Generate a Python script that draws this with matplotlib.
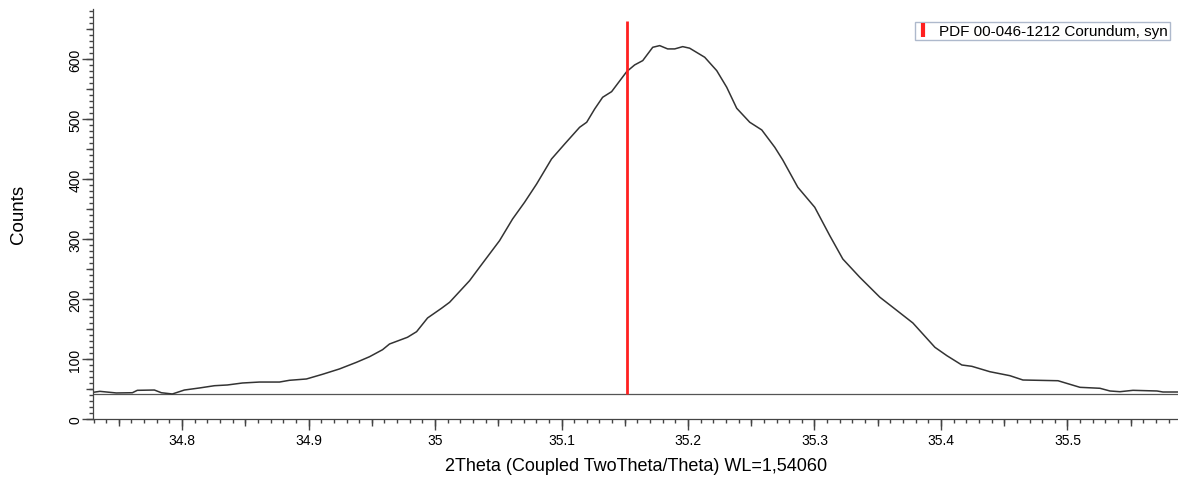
import matplotlib
matplotlib.use("Agg")
import matplotlib.pyplot as plt
from matplotlib.lines import Line2D
from matplotlib.ticker import MultipleLocator, NullFormatter

plt.rcParams['font.family'] = ['Liberation Sans', 'DejaVu Sans']

# --- данные ---
two_theta = [34.7298, 34.7350, 34.7480, 34.7607, 34.7646, 34.7781, 34.7836, 34.7923,
             34.8018, 34.8137, 34.8256, 34.8358, 34.8477, 34.8612, 34.8770, 34.8849,
             34.8983, 34.9110, 34.9244, 34.9379, 34.9482, 34.9585, 34.9640, 34.9782,
             34.9854, 34.9941, 35.0051, 35.0115, 35.0273, 35.0352, 35.0510, 35.0613,
             35.0708, 35.0803, 35.0921, 35.1025, 35.1143, 35.1199, 35.1262, 35.1325,
             35.1396, 35.1515, 35.1578, 35.1642, 35.1721, 35.1776, 35.1839, 35.1895,
             35.1958, 35.2013, 35.2132, 35.2227, 35.2306, 35.2385, 35.2488, 35.2583,
             35.2686, 35.2749, 35.2868, 35.3002, 35.3121, 35.3224, 35.3358, 35.3517,
             35.3619, 35.3778, 35.3952, 35.4047, 35.4165, 35.4244, 35.4387, 35.4545,
             35.4648, 35.4925, 35.5099, 35.5257, 35.5336, 35.5415, 35.5518, 35.5708,
             35.5755, 35.5874]
counts = [44.5, 46.1, 43.4, 43.8, 47.8, 48.3, 43.8, 41.7,
          48.3, 51.7, 55.5, 56.7, 60.0, 61.6, 61.6, 64.5,
          66.7, 74.5, 83.4, 94.5, 103.8, 115.5, 125.0, 136.2,
          145.5, 168.4, 184.5, 194.5, 230.5, 252.9, 297.2, 333.3,
          361.2, 391.6, 433.3, 458.3, 486.1, 494.5, 516.6, 536.1,
          545.5, 578.8, 590.0, 597.2, 619.4, 622.2, 616.7, 616.7,
          620.5, 617.9, 602.8, 580.5, 552.8, 517.8, 494.5, 481.7,
          452.8, 431.7, 386.2, 352.8, 305.5, 266.6, 236.2, 202.9,
          186.2, 160.0, 119.5, 105.5, 90.0, 87.8, 78.8, 72.2,
          65.0, 63.8, 52.8, 51.2, 46.7, 45.5, 47.8, 46.7,
          45.0, 45.0]

BASELINE = 41.7
PDF_POS = 35.152
PDF_TOP = 664
PDF_LABEL = "PDF 00-046-1212 Corundum, syn"

TICK_COLOR = "#444444"

fig = plt.figure(figsize=(11.78, 4.81), dpi=100)
ax = fig.add_axes([0.0792, 0.1268, 0.9208, 0.8534])

ax.axhline(BASELINE, color="#555555", lw=0.9, zorder=1)
ax.plot(two_theta, counts, color="#333333", lw=1.1, zorder=2)
ax.vlines(PDF_POS, BASELINE, PDF_TOP, color="#ff2020", lw=2.0, zorder=3)

ax.set_xlim(34.7298, 35.5874)
ax.set_ylim(0, 684)

for s in ["top", "right"]:
    ax.spines[s].set_visible(False)
for s in ["left", "bottom"]:
    ax.spines[s].set_color(TICK_COLOR)
    ax.spines[s].set_linewidth(0.9)

ax.xaxis.set_major_locator(MultipleLocator(0.1))
ax.xaxis.set_minor_locator(MultipleLocator(0.01))
ax.yaxis.set_major_locator(MultipleLocator(100))
ax.yaxis.set_minor_locator(MultipleLocator(10))
ax.xaxis.set_major_formatter(plt.FuncFormatter(lambda v, p: f"{v:g}"))

ax.tick_params(axis="both", which="major", length=8, width=1.0, color=TICK_COLOR,
               labelsize=10, direction="out")
ax.tick_params(axis="both", which="minor", length=3, width=1.0, color=TICK_COLOR,
               direction="out")
ax.tick_params(axis="x", pad=2)
ax.tick_params(axis="y", pad=0)
for lbl in ax.get_yticklabels():
    lbl.set_rotation(90)
    lbl.set_va("center")

# средние засечки (каждые 0.05 и 50)
sx = ax.secondary_xaxis("bottom")
sx.xaxis.set_major_locator(MultipleLocator(0.05))
sx.xaxis.set_major_formatter(NullFormatter())
sx.tick_params(length=5, width=1.0, color=TICK_COLOR)
sx.spines["bottom"].set_visible(False)
sy = ax.secondary_yaxis("left")
sy.yaxis.set_major_locator(MultipleLocator(50))
sy.yaxis.set_major_formatter(NullFormatter())
sy.tick_params(length=5, width=1.0, color=TICK_COLOR)
sy.spines["left"].set_visible(False)

ax.set_xlabel("2Theta (Coupled TwoTheta/Theta) WL=1,54060", fontsize=13, labelpad=7)
ax.set_ylabel("Counts", fontsize=13.5)
ax.yaxis.set_label_coords(-0.061, 0.5)

handle = Line2D([], [], color="#ff2020", marker="|", linestyle="none",
                markersize=10, markeredgewidth=3)
leg = ax.legend([handle], [PDF_LABEL], loc="upper right",
                bbox_to_anchor=(0.9925, 0.968), fontsize=11, frameon=True,
                fancybox=False, handlelength=0.7, handletextpad=0.7,
                borderpad=0.15, borderaxespad=0)
leg.get_frame().set_edgecolor("#9aa8c0")
leg.get_frame().set_linewidth(1.0)
leg.get_frame().set_facecolor("white")

fig.savefig("out.png", dpi=100)
